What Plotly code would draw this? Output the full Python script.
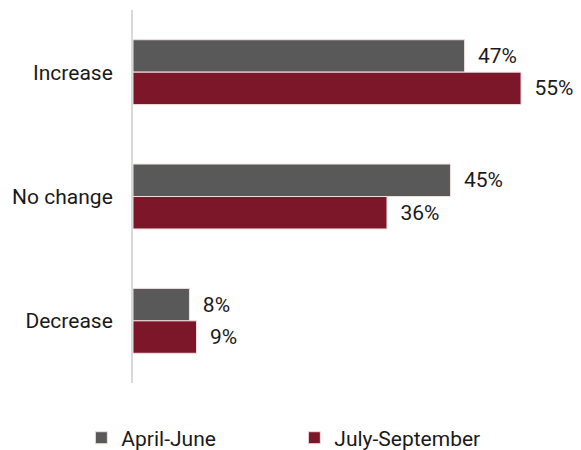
import plotly.graph_objects as go

categories = ["Increase", "No change", "Decrease"]
april_june = [47, 45, 8]
july_september = [55, 36, 9]

series = [
    ("April-June", april_june, "#595959"),
    ("July-September", july_september, "#7B1728"),
]

fig = go.Figure()
for name, vals, color in series:
    fig.add_trace(go.Bar(
        y=categories, x=vals, name=name, orientation="h",
        marker=dict(color=color, line=dict(color="#f2dede", width=1)),
        text=[f"{v}%" for v in vals], textposition="outside",
        texttemplate="  %{text}",
        textfont=dict(size=21, color="#1a1a1a"),
        cliponaxis=False,
    ))

# page has an 8px body margin, so the figure is 8px smaller than the window
fig.update_layout(
    width=573, height=442,
    margin=dict(l=125, r=0, t=2, b=67, autoexpand=False),
    barmode="group", bargap=0.478, bargroupgap=0,
    plot_bgcolor="white", paper_bgcolor="white",
    font=dict(family="Roboto", size=21, color="#1a1a1a"),
    uniformtext=dict(minsize=21, mode="show"),
    showlegend=True,
    legend=dict(orientation="h", xref="container", yref="container",
                x=0.128, y=0.027, xanchor="left", yanchor="middle",
                entrywidth=168, entrywidthmode="pixels",
                font=dict(size=21), itemwidth=30),
    xaxis=dict(range=[0, 63.5], showgrid=False, showticklabels=False, zeroline=False,
               showline=False),
    yaxis=dict(autorange="reversed", showgrid=False, showline=True, linecolor="#d9d9d9",
               linewidth=2, ticks="", ticklabelstandoff=14, tickfont=dict(size=21)),
)

fig.write_html("out.html")
